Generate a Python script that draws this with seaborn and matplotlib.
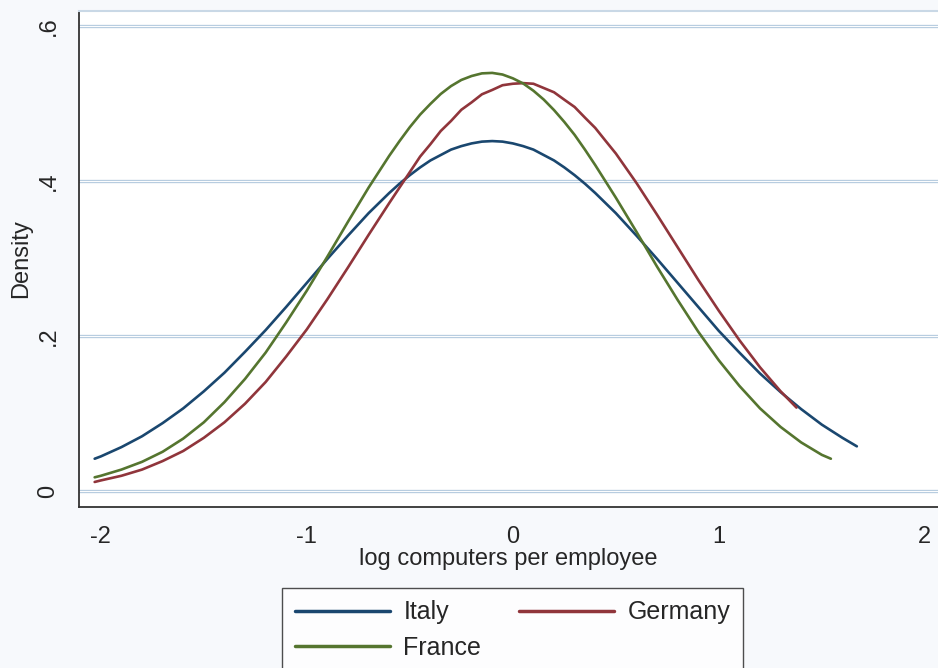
import pandas as pd
import matplotlib.pyplot as plt
import seaborn as sns
from matplotlib.lines import Line2D

# =========================
# DENSITY VALUES
# =========================

italy_x = [-2.03, -2.0, -1.9, -1.8, -1.7, -1.6, -1.5, -1.4, -1.3, -1.2, -1.1,
           -1.0, -0.9, -0.8, -0.7, -0.6, -0.55, -0.5, -0.45, -0.4, -0.35,
           -0.3, -0.25, -0.2, -0.15, -0.1, -0.05, 0.0, 0.05, 0.1, 0.15, 0.2,
           0.25, 0.3, 0.35, 0.4, 0.5, 0.6, 0.7, 0.8, 0.9, 1.0, 1.1, 1.2, 1.3,
           1.4, 1.5, 1.6, 1.67]
italy_y = [0.042, 0.045, 0.057, 0.071, 0.088, 0.107, 0.129, 0.153, 0.180,
           0.208, 0.238, 0.269, 0.300, 0.330, 0.359, 0.385, 0.397, 0.408,
           0.418, 0.427, 0.434, 0.441, 0.4455, 0.449, 0.4513, 0.452, 0.4513,
           0.449, 0.4455, 0.441, 0.434, 0.427, 0.418, 0.408, 0.397, 0.385,
           0.359, 0.330, 0.300, 0.269, 0.238, 0.207, 0.179, 0.152, 0.128,
           0.106, 0.086, 0.069, 0.058]

germany_x = [-2.03, -2.0, -1.9, -1.8, -1.7, -1.6, -1.5, -1.4, -1.3, -1.2,
             -1.1, -1.0, -0.9, -0.8, -0.7, -0.6, -0.5, -0.45, -0.4, -0.35,
             -0.3, -0.25, -0.2, -0.15, -0.1, -0.05, 0.0, 0.05, 0.1, 0.15,
             0.2, 0.25, 0.3, 0.35, 0.4, 0.45, 0.5, 0.55, 0.6, 0.7, 0.8, 0.9,
             1.0, 1.1, 1.2, 1.3, 1.377]
germany_y = [0.012, 0.014, 0.020, 0.028, 0.039, 0.052, 0.069, 0.089, 0.113,
             0.141, 0.174, 0.209, 0.248, 0.289, 0.331, 0.372, 0.412, 0.432,
             0.448, 0.465, 0.478, 0.4924, 0.502, 0.5124, 0.518, 0.5241,
             0.526, 0.5268, 0.526, 0.5205, 0.515, 0.5054, 0.496, 0.4823,
             0.469, 0.4524, 0.436, 0.417, 0.398, 0.357, 0.315, 0.273, 0.233,
             0.195, 0.160, 0.129, 0.108]

france_x = [-2.03, -2.0, -1.9, -1.8, -1.7, -1.6, -1.5, -1.4, -1.3, -1.2,
            -1.1, -1.0, -0.9, -0.8, -0.7, -0.6, -0.55, -0.5, -0.45, -0.4,
            -0.35, -0.3, -0.25, -0.2, -0.15, -0.1, -0.05, 0.0, 0.05, 0.1,
            0.15, 0.2, 0.25, 0.3, 0.35, 0.4, 0.5, 0.6, 0.7, 0.8, 0.9, 1.0,
            1.1, 1.2, 1.3, 1.4, 1.5, 1.544]
france_y = [0.018, 0.020, 0.028, 0.038, 0.051, 0.068, 0.089, 0.115, 0.145,
            0.179, 0.218, 0.259, 0.303, 0.348, 0.392, 0.433, 0.452, 0.470,
            0.4862, 0.500, 0.5128, 0.523, 0.5309, 0.536, 0.5394, 0.540,
            0.5379, 0.533, 0.5264, 0.517, 0.5056, 0.492, 0.4767, 0.460,
            0.441, 0.421, 0.379, 0.335, 0.290, 0.247, 0.206, 0.169, 0.136,
            0.107, 0.083, 0.063, 0.047, 0.042]

countries = ["Italy", "Germany", "France"]
colors = {"Italy": "#1a476f", "Germany": "#90353b", "France": "#55752f"}

df = pd.concat([
    pd.DataFrame({"x": italy_x, "density": italy_y, "country": "Italy"}),
    pd.DataFrame({"x": germany_x, "density": germany_y, "country": "Germany"}),
    pd.DataFrame({"x": france_x, "density": france_y, "country": "France"}),
])

# =========================
# PLOT
# =========================

sns.set_style("white")
plt.rcParams["font.family"] = ["Liberation Sans", "DejaVu Sans"]

bg = "#f7f9fc"
fig = plt.figure(figsize=(9.38, 6.68), dpi=100, facecolor=bg)
ax = fig.add_axes([79 / 938, 1 - 507 / 668, 1 - 79 / 938, (507 - 11) / 668])
ax.set_facecolor("white")

# double light-blue gridlines, Stata style
for yv in [0, 0.2, 0.4, 0.6]:
    ax.axhline(yv, color="#b8cde0", lw=2.4, zorder=1)
    ax.axhline(yv, color="white", lw=0.7, zorder=1.1)

sns.lineplot(data=df, x="x", y="density", hue="country", palette=colors,
             hue_order=countries, sort=False, estimator=None, lw=1.9,
             ax=ax, legend=False, zorder=3)

ax.set_xlim(-2.106, 2.064)
ax.set_ylim(-0.0203, 0.6199)

ax.set_xticks([-2, -1, 0, 1, 2])
ax.set_xticklabels(["-2", "-1", "0", "1", "2"], fontsize=17)
ax.set_yticks([0, 0.2, 0.4, 0.6])
ax.set_yticklabels(["0", ".2", ".4", ".6"], fontsize=17, rotation=90,
                   va="center")
ax.tick_params(axis="both", direction="out", length=8, width=1.2,
               color="#333333", pad=6)

ax.set_xlabel("log computers per employee", fontsize=17, labelpad=0)
ax.set_ylabel("Density", fontsize=17, labelpad=4)

for side in ["left", "bottom"]:
    ax.spines[side].set_color("#333333")
    ax.spines[side].set_linewidth(1.3)
ax.spines["top"].set_color("#c9d8e6")
ax.spines["top"].set_linewidth(1.5)
ax.spines["right"].set_visible(False)

# legend filled column-wise: Italy / France in first column, Germany second
order = ["Italy", "France", "Germany"]
handles = [Line2D([], [], color=colors[c], lw=2.5) for c in order]
leg = fig.legend(handles, order, loc="upper left",
                 bbox_to_anchor=(282 / 938, 1 - 588 / 668), ncol=2,
                 fontsize=18, frameon=True, fancybox=False, edgecolor="#222222",
                 handlelength=3.8, handletextpad=0.55, columnspacing=1.5,
                 labelspacing=0.45, borderpad=0.5, borderaxespad=0)
leg.get_frame().set_linewidth(1.0)

fig.savefig("out.png", dpi=100, facecolor=bg)
